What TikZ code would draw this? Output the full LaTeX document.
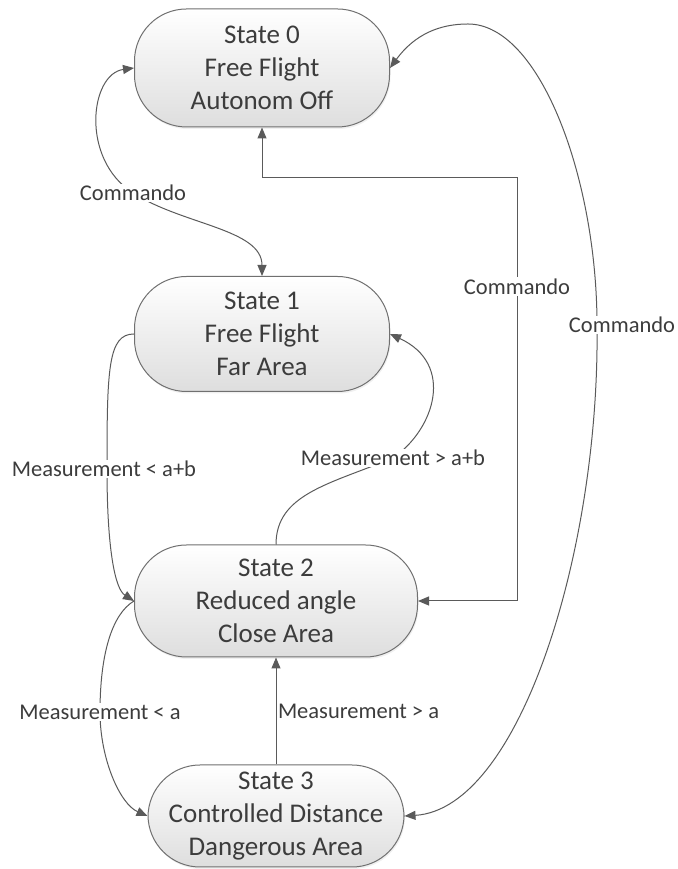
\documentclass[tikz,border=0pt]{standalone}
\usepackage{fontspec}
\setmainfont{Carlito}
\usetikzlibrary{arrows.meta,shadows}
\definecolor{linegray}{HTML}{5A5A5A}
\definecolor{boxgray}{HTML}{707070}
\definecolor{textgray}{HTML}{3C3C3C}
\tikzset{
	state/.style={rectangle, rounded corners=52pt, draw=boxgray, line width=1pt,
		top color=white, bottom color=black!13, text=textgray, align=center,
		inner sep=0pt, font=\fontsize{27}{33}\selectfont,
		drop shadow={opacity=0.12, shadow xshift=1pt, shadow yshift=-2pt}},
	lbl/.style={fill=white, text=textgray, inner sep=1.5pt,
		font=\fontsize{22.5}{27}\selectfont},
	trans/.style={draw=linegray, line width=1pt,
		arrows={-Triangle[length=11pt,width=9pt]}},
	both/.style={trans, arrows={Triangle[length=11pt,width=9pt]-Triangle[length=11pt,width=9pt]}}
}
\begin{document}
\begin{tikzpicture}[x=1pt,y=1pt]
	\useasboundingbox (0,0) rectangle (677,869);
	% states
	\node[state, minimum width=255pt, minimum height=118pt] (s0) at (262,801)
	{State 0\\Free Flight\\Autonom Off};
	\node[state, minimum width=255pt, minimum height=115pt] (s1) at (262,535)
	{State 1\\Free Flight\\Far Area};
	\node[state, minimum width=283pt, minimum height=112pt] (s2) at (276,268)
	{State 2\\Reduced angle\\Close Area};
	\node[state, minimum width=256pt, minimum height=102pt] (s3) at (276,53)
	{State 3\\Controlled Distance\\Dangerous Area};
	% commando transitions
	\draw[both] (s0.west) .. controls (90,795) and (80,710) .. (133,676)
	node[lbl] {Commando}
	.. controls (183,644) and (262,640) .. (s1.north);
	\coordinate (k) at (517,691);
	\draw[both] (s0.south) |- (k) |- (s2.east) node[lbl, pos=0.128] {Commando};
	\draw[both] (s0.east) .. controls (415,835) and (440,845) .. (468,845)
	.. controls (540,845) and (597,690) .. (597,544)
	node[lbl, xshift=25pt] {Commando}
	.. controls (600,320) and (520,60) .. (s3.east);
	% measurement transitions
	\draw[trans] (s1.west) .. controls (108,535) and (107,500) .. (107,400)
	node[lbl, xshift=-3pt] {Measurement < a+b}
	.. controls (107,320) and (115,280) .. (s2.west);
	\draw[trans] (s2.north) .. controls (276,375) and (330,385) .. (393,411)
	node[lbl] {Measurement > a+b}
	.. controls (435,440) and (455,505) .. (s1.east);
	\draw[trans] (s2.west) .. controls (112,255) and (100,215) .. (100,157)
	node[lbl] {Measurement < a}
	.. controls (100,110) and (120,65) .. (s3.west);
	\draw[trans] (s3.north) -- (s2.south)
	node[lbl, midway, right, fill=none] {Measurement > a};
\end{tikzpicture}
\end{document}
